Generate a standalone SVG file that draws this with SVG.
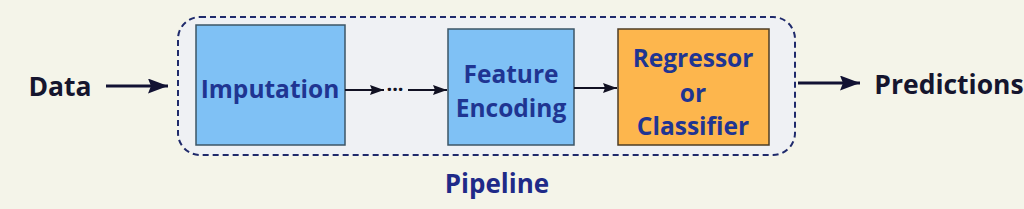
<svg xmlns="http://www.w3.org/2000/svg" width="1024" height="209" viewBox="0 0 1024 209">
<style>
text{font-family:"Open Sans","Noto Sans",sans-serif;font-weight:bold;text-anchor:middle;dominant-baseline:central}
.io{fill:#15152e;font-size:26.5px}
.lbl{fill:#1f3592;font-size:24.5px}
.conn{stroke:#111122;stroke-width:2;fill:none}
.conn2{stroke:#111133;stroke-width:3;fill:none}
</style>
<defs>
<marker id="ah" viewBox="0 0 14 10" refX="14" refY="5" markerWidth="14" markerHeight="10" markerUnits="userSpaceOnUse" orient="auto"><path d="M0,0 L14,5 L0,10 L2,5 Z" fill="#111122"/></marker>
<marker id="ahL" viewBox="0 0 20 15" refX="20" refY="7.5" markerWidth="20" markerHeight="15" markerUnits="userSpaceOnUse" orient="auto"><path d="M0,0 L20,7.5 L0,15 L3,7.5 Z" fill="#111133"/></marker>
</defs>
<rect width="1024" height="209" fill="#f4f4e9"/>
<g id="pipeline">
<rect x="178" y="17" width="617" height="138" rx="22" fill="#eff1f4" stroke="#1f2a6b" stroke-width="2" stroke-dasharray="6,4"/>
<text x="497" y="183" style="font-size:26px;fill:#1f2a88">Pipeline</text>
</g>
<g id="data"><text class="io" x="60" y="86">Data</text></g>
<g id="imputation">
<rect x="196" y="25" width="149" height="120" fill="#7fc1f5" stroke="#3d5566" stroke-width="1.5"/>
<text class="lbl" x="270" y="88">Imputation</text>
</g>
<g id="feature">
<rect x="448" y="29" width="126" height="116" fill="#7fc1f5" stroke="#3d5566" stroke-width="1.5"/>
<text class="lbl" x="511" y="73">Feature</text>
<text class="lbl" x="511" y="107">Encoding</text>
</g>
<g id="regressor">
<rect x="618" y="29" width="151" height="116" fill="#fdb64d" stroke="#4d3c24" stroke-width="1.5"/>
<text class="lbl" x="693" y="57">Regressor</text>
<text class="lbl" x="693" y="92">or</text>
<text class="lbl" x="693" y="125">Classifier</text>
</g>
<g id="predictions"><text class="io" x="949" y="84">Predictions</text></g>
<g id="connectors">
<line class="conn2" x1="106" y1="86" x2="168" y2="86" marker-end="url(#ahL)"/>
<line class="conn" x1="345" y1="90" x2="384" y2="90" marker-end="url(#ah)"/>
<text x="395" y="88" style="font-size:20px;fill:#111122">···</text>
<line class="conn" x1="408" y1="90" x2="447" y2="90" marker-end="url(#ah)"/>
<line class="conn" x1="574" y1="88" x2="617" y2="88" marker-end="url(#ah)"/>
<line class="conn2" x1="798" y1="83" x2="860" y2="83" marker-end="url(#ahL)"/>
</g>
</svg>
